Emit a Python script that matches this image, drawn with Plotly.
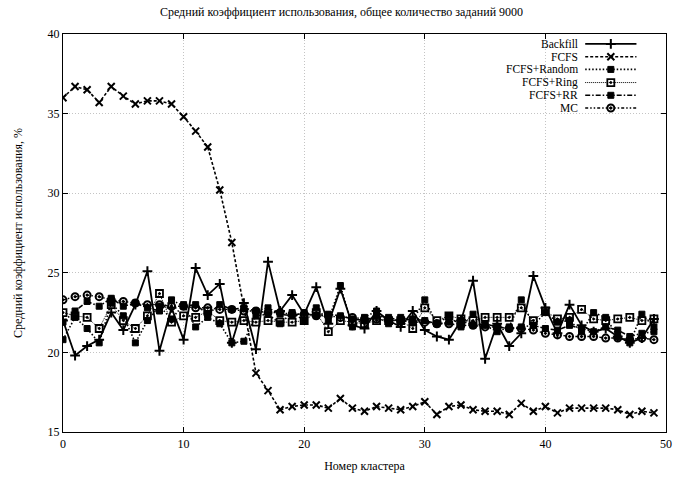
import plotly.graph_objects as go

clusters = list(range(50))

backfill = [22.0, 19.8, 20.4, 20.8, 22.5, 21.4, 23.0, 25.1, 20.1, 22.8,
            20.8, 25.3, 23.6, 24.3, 20.6, 23.1, 20.2, 25.7, 22.6, 23.6,
            22.4, 24.1, 21.8, 24.0, 21.7, 21.5, 22.6, 22.0, 21.6, 22.6,
            21.4, 21.0, 20.8, 22.0, 24.5, 19.6, 21.8, 20.4, 21.2, 24.8,
            22.8, 21.2, 23.0, 21.7, 21.3, 21.5, 21.0, 20.6, 20.9, 22.1]

fcfs = [36.0, 36.7, 36.5, 35.7, 36.7, 36.1, 35.6, 35.8, 35.8, 35.6,
        34.8, 33.9, 32.9, 30.2, 26.9, 22.7, 18.7, 17.6, 16.4, 16.6,
        16.7, 16.7, 16.5, 17.1, 16.5, 16.3, 16.6, 16.5, 16.4, 16.6,
        16.9, 16.1, 16.6, 16.7, 16.4, 16.3, 16.3, 16.1, 16.8, 16.3,
        16.6, 16.2, 16.5, 16.5, 16.5, 16.5, 16.4, 16.1, 16.3, 16.2]

fcfs_random = [20.8, 22.2, 21.5, 20.6, 23.1, 22.3, 20.6, 22.0, 22.9, 22.1,
               23.0, 21.6, 22.2, 21.8, 20.6, 20.7, 22.3, 22.4, 21.8, 22.5,
               22.0, 22.8, 22.0, 24.2, 21.6, 22.2, 22.6, 21.8, 22.2, 22.0,
               23.3, 21.8, 22.3, 21.6, 22.4, 21.7, 21.3, 21.6, 23.3, 21.7,
               22.5, 21.9, 22.0, 21.3, 22.5, 22.2, 21.0, 20.6, 22.4, 21.6]

fcfs_ring = [22.5, 22.3, 22.2, 21.5, 23.0, 22.0, 21.5, 22.3, 23.7, 21.9,
             22.3, 22.2, 22.6, 22.0, 21.9, 22.0, 21.9, 22.0, 21.9, 21.9,
             22.0, 22.5, 21.3, 22.0, 21.9, 21.8, 22.0, 22.0, 22.0, 21.5,
             22.8, 22.0, 22.3, 22.1, 22.0, 22.2, 22.2, 22.2, 22.8, 22.0,
             22.6, 22.1, 22.2, 22.7, 22.1, 22.0, 22.1, 22.2, 22.0, 22.1]

fcfs_rr = [21.9, 22.6, 23.2, 22.9, 23.4, 22.9, 23.1, 22.8, 22.6, 23.3,
           22.9, 23.0, 22.4, 23.0, 22.7, 22.8, 22.6, 22.8, 22.4, 22.3,
           22.5, 22.3, 22.4, 22.3, 22.1, 22.0, 22.3, 22.2, 22.0, 22.1,
           22.0, 21.8, 21.9, 22.0, 21.7, 21.8, 21.6, 21.5, 21.6, 21.7,
           21.5, 21.4, 21.7, 21.5, 21.3, 21.6, 21.4, 21.0, 21.2, 21.3]

mc = [23.3, 23.5, 23.6, 23.5, 23.3, 23.2, 23.1, 23.0, 23.0, 22.9,
      22.9, 22.8, 22.8, 22.7, 22.7, 22.6, 22.6, 22.5, 22.5, 22.4,
      22.4, 22.3, 22.3, 22.2, 22.2, 22.1, 22.1, 22.0, 22.0, 21.9,
      21.9, 21.8, 21.8, 21.7, 21.7, 21.6, 21.6, 21.5, 21.5, 21.4,
      21.2, 21.1, 21.0, 21.0, 21.0, 20.9, 20.9, 20.8, 20.9, 20.8]

series_names = ["Backfill", "FCFS", "FCFS+Random", "FCFS+Ring", "FCFS+RR", "MC"]
series_values = [backfill, fcfs, fcfs_random, fcfs_ring, fcfs_rr, mc]

styles = [
    dict(dash="solid", width=1.8, symbol="cross-thin", msize=7, mlw=2),
    dict(dash="3px,2px", width=1.6, symbol="x-thin", msize=7, mlw=2),
    dict(dash="1.5px,2px", width=1.6, symbol="square", msize=6, mlw=1),
    dict(dash="1px,1px", width=1.0, symbol="square-open-dot", msize=7, mlw=1.8),
    dict(dash="5px,2px,1.5px,2px", width=1.6, symbol="square", msize=6, mlw=1),
    dict(dash="3px,2px,1.5px,2px,1.5px,2px", width=1.4, symbol="circle-open-dot", msize=7, mlw=2),
]

FONT = "Liberation Serif, Times New Roman, serif"
fig = go.Figure()

for name, vals, st in zip(series_names, series_values, styles):
    fig.add_trace(go.Scatter(
        x=clusters, y=vals, mode="lines+markers", name=name, showlegend=False,
        line=dict(color="black", width=st["width"], dash=st["dash"]),
        marker=dict(symbol=st["symbol"], size=st["msize"], color="black",
                    line=dict(color="black", width=st["mlw"])),
    ))

# custom gnuplot-style key (text left, sample right)
row_y = [0.975, 0.943, 0.911, 0.878, 0.846, 0.814]
for name, st, yy in zip(series_names, styles, row_y):
    fig.add_trace(go.Scatter(
        x=[0.866, 0.951], y=[yy, yy], xaxis="x2", yaxis="y2", mode="lines",
        showlegend=False, hoverinfo="skip",
        line=dict(color="black", width=st["width"], dash=st["dash"]),
    ))
    fig.add_trace(go.Scatter(
        x=[0.9085], y=[yy], xaxis="x2", yaxis="y2", mode="markers",
        showlegend=False, hoverinfo="skip",
        marker=dict(symbol=st["symbol"], size=st["msize"], color="black",
                    line=dict(color="black", width=st["mlw"])),
    ))
    fig.add_annotation(x=0.855, y=yy, xref="paper", yref="paper", text=name,
                       showarrow=False, xanchor="right", yanchor="middle",
                       borderpad=0,
                       font=dict(family=FONT, size=11.5, color="black"))

fig.add_shape(type="rect", xref="paper", yref="paper", x0=0.742, x1=0.998,
              y0=0.79, y1=0.998, fillcolor="white", line=dict(width=0),
              layer="between")

axis_common = dict(showline=True, linecolor="black", linewidth=1.2, mirror="allticks",
                   ticks="inside", ticklen=5, tickcolor="black",
                   showgrid=True, gridcolor="#c4c4c4", griddash="1px,2px", gridwidth=1,
                   zeroline=False, tickfont=dict(family=FONT, size=12, color="black"))

fig.update_layout(
    width=683, height=482,
    margin=dict(l=63, r=11, t=34, b=45),
    paper_bgcolor="white", plot_bgcolor="white",
    title=dict(text="Средний коэффициент использования, общее количество заданий 9000",
               x=0.5, xanchor="center", y=0.975, yanchor="middle",
               font=dict(family=FONT, size=12, color="black")),
    xaxis=dict(range=[0, 50], tickvals=[0, 10, 20, 30, 40, 50],
               title=dict(text="Номер кластера", standoff=12,
                          font=dict(family=FONT, size=12, color="black")),
               **axis_common),
    yaxis=dict(range=[15, 40], tickvals=[15, 20, 25, 30, 35, 40],
               title=dict(text="Средний коэффициент использования, %", standoff=22,
                          font=dict(family=FONT, size=12, color="black")),
               **axis_common),
    xaxis2=dict(overlaying="x", range=[0, 1], visible=False, fixedrange=True),
    yaxis2=dict(overlaying="y", range=[0, 1], visible=False, fixedrange=True),
    showlegend=False,
)

fig.write_html("out.html")
